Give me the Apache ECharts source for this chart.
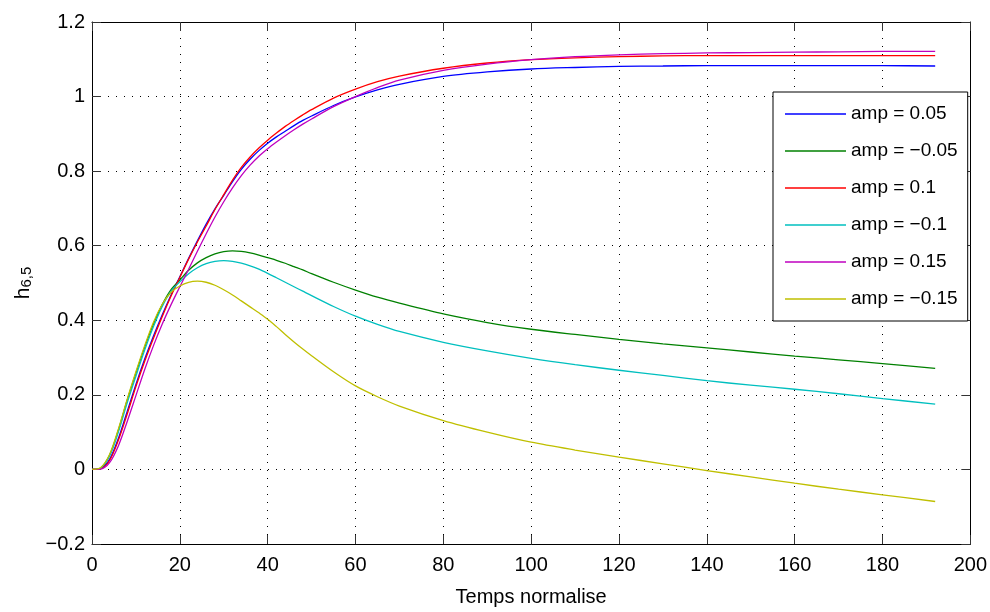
<!DOCTYPE html>
<html>
<head>
<meta charset="utf-8">
<script src="https://cdn.jsdelivr.net/npm/echarts@6/dist/echarts.min.js"></script>
<style>html,body{margin:0;padding:0;background:#fff}#c{width:990px;height:612px}</style>
</head>
<body>
<div id="c"></div>
<script>
const xs = [0,2,4,6,8,10,12,14,16,18,20,22,24,26,28,30,32,34,36,38,40,42,44,46,48,50,55,60,65,70,80,90,100,110,120,130,140,150,160,170,180,192];
const ampP005 = [0,0.003,0.027,0.083,0.155,0.228,0.296,0.358,0.415,0.468,0.517,0.566,0.613,0.658,0.699,0.735,0.772,0.805,0.832,0.855,0.875,0.892,0.907,0.922,0.936,0.948,0.976,0.999,1.018,1.033,1.054,1.066,1.074,1.078,1.081,1.082,1.083,1.083,1.083,1.083,1.083,1.082];
const ampM005 = [0,0.004,0.038,0.105,0.185,0.258,0.328,0.39,0.442,0.482,0.508,0.534,0.554,0.568,0.578,0.584,0.586,0.585,0.581,0.575,0.568,0.561,0.553,0.544,0.535,0.525,0.502,0.481,0.462,0.446,0.417,0.394,0.376,0.362,0.349,0.337,0.326,0.315,0.304,0.294,0.284,0.271];
const ampP01 = [0,0.002,0.024,0.078,0.148,0.222,0.29,0.352,0.41,0.465,0.515,0.564,0.61,0.653,0.697,0.737,0.776,0.81,0.838,0.862,0.883,0.902,0.92,0.936,0.951,0.965,0.996,1.02,1.04,1.055,1.076,1.09,1.099,1.104,1.107,1.109,1.11,1.11,1.11,1.11,1.11,1.11];
const ampM01 = [0,0.004,0.036,0.1,0.178,0.25,0.32,0.383,0.437,0.478,0.503,0.525,0.541,0.552,0.558,0.56,0.558,0.553,0.546,0.537,0.526,0.514,0.502,0.49,0.478,0.466,0.437,0.411,0.389,0.37,0.341,0.318,0.298,0.281,0.266,0.252,0.238,0.226,0.215,0.203,0.19,0.175];
const ampP015 = [0,0.001,0.018,0.063,0.128,0.198,0.268,0.332,0.39,0.442,0.49,0.537,0.585,0.632,0.677,0.718,0.755,0.788,0.816,0.84,0.86,0.878,0.895,0.911,0.926,0.94,0.973,1.0,1.024,1.044,1.07,1.087,1.099,1.107,1.112,1.115,1.117,1.118,1.119,1.12,1.121,1.121];
const ampM015 = [0,0.005,0.04,0.108,0.188,0.262,0.332,0.395,0.443,0.475,0.492,0.502,0.505,0.502,0.494,0.482,0.468,0.452,0.436,0.42,0.403,0.383,0.362,0.342,0.323,0.305,0.262,0.224,0.195,0.17,0.131,0.1,0.073,0.052,0.033,0.015,-0.003,-0.02,-0.037,-0.053,-0.068,-0.086];

const seriesNames = ['amp = 0.05','amp = \u22120.05','amp = 0.1','amp = \u22120.1','amp = 0.15','amp = \u22120.15'];
const seriesValues = [ampP005, ampM005, ampP01, ampM01, ampP015, ampM015];
const colors = ['#0000ff','#008000','#ff0000','#00bfbf','#bf00bf','#bfbf00'];

const FONT = 'Liberation Sans';
const gridDots = {show:true, lineStyle:{color:'#000', width:1, type:[1,7]}};
const tickIn = {show:true, inside:true, length:9, lineStyle:{color:'#333', width:1}};
const axLine = {show:true, onZero:false, lineStyle:{color:'#000', width:1}};

const chart = echarts.init(document.getElementById('c'), null, {renderer:'canvas'});
chart.setOption({
  animation:false,
  backgroundColor:'#fff',
  grid:{left:92, right:19, top:22, bottom:68, containLabel:false},
  legend:{
    orient:'vertical', left:773, top:92,
    backgroundColor:'#fff', borderColor:'#000', borderWidth:1, borderRadius:0,
    padding:[12,10,12,12], itemWidth:61, itemHeight:1.5, itemGap:17,
    textStyle:{fontFamily:FONT, fontSize:19, color:'#000', lineHeight:20},
    data: seriesNames.map(n=>({name:n, icon:'rect'}))
  },
  xAxis:[{
    type:'value', min:0, max:200, interval:20,
    name:'Temps normalise', nameLocation:'middle', nameGap:43,
    nameTextStyle:{fontFamily:FONT, fontSize:20, color:'#000'},
    axisLine:axLine, axisTick:tickIn, splitLine:gridDots,
    axisLabel:{fontFamily:FONT, fontSize:20, color:'#000', margin:11}
  },{
    type:'value', min:0, max:200, interval:20, position:'top',
    axisLine:axLine, axisTick:tickIn, splitLine:{show:false}, axisLabel:{show:false}
  }],
  yAxis:[{
    type:'value', min:-0.2, max:1.2, interval:0.2,
    name:'{h|h}{s|6,5}', nameLocation:'middle', nameGap:58, nameRotate:90,
    nameTextStyle:{rich:{
      h:{fontFamily:FONT, fontSize:21, color:'#000', verticalAlign:'bottom', lineHeight:30},
      s:{fontFamily:FONT, fontSize:15, color:'#000', verticalAlign:'bottom', lineHeight:30, padding:[10,0,0,0]}
    }},
    axisLine:axLine, axisTick:tickIn, splitLine:gridDots,
    axisLabel:{fontFamily:FONT, fontSize:20, color:'#000', margin:7,
      formatter:v=>String(Math.round(v*10)/10).replace('-','\u2212')}
  },{
    type:'value', min:-0.2, max:1.2, interval:0.2, position:'right',
    axisLine:axLine, axisTick:tickIn, splitLine:{show:false}, axisLabel:{show:false}
  }],
  series: seriesValues.map((vals,i)=>({
    name:seriesNames[i], type:'line', xAxisIndex:0, yAxisIndex:0,
    data: xs.map((x,k)=>[x, vals[k]]),
    smooth:0.3, showSymbol:false, symbol:'none',
    lineStyle:{color:colors[i], width:1.3}, itemStyle:{color:colors[i]}
  }))
});
</script>
</body>
</html>
